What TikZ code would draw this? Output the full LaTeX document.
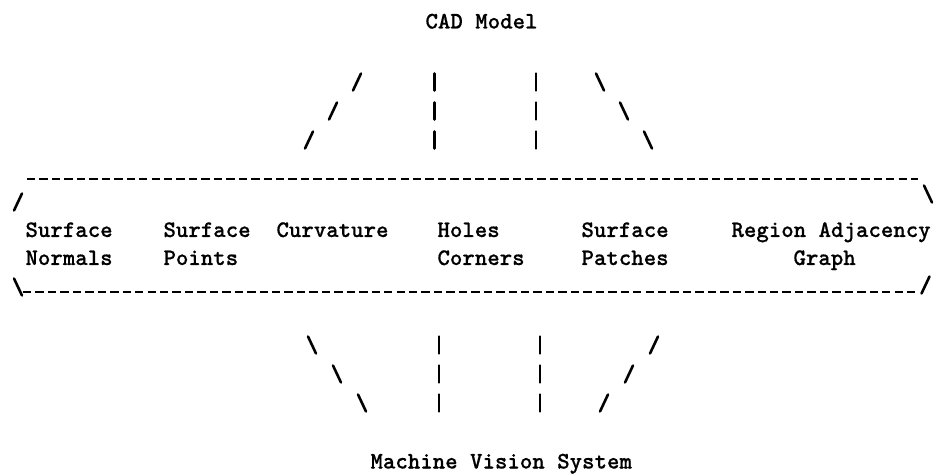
\documentclass[tikz,border=0pt]{standalone}
\usepackage{fontspec}
% heavy typewriter face for all labels
\newfontfamily\typer{lmmonolt10-bold.otf}[FakeBold=0.5]
\begin{document}
\begin{tikzpicture}[x=1bp,y=-1bp,
  lbl/.style={anchor=base west,inner sep=0pt,outer sep=0pt,
    font=\fontsize{23.8}{28}\selectfont\typer},
  tick/.style={line width=2.6bp,line cap=round},
  rule/.style={line width=2.3bp,dash pattern=on 8.4bp off 4.05bp},
  fslash/.pic={\draw[tick] (-4,8.5) -- (4,-8.5);},
  bslash/.pic={\draw[tick] (-4,-8.5) -- (4,8.5);},
  vbar/.pic={\draw[tick] (0,-8.5) -- (0,8.5);}]
\fill[white] (0,0) rectangle (939,474);
\useasboundingbox (0,0) rectangle (939,474);

% source and target
\node[lbl] (cad) at (425.5,28.5) {CAD Model};
\node[lbl] (mvs) at (370.5,468.5) {Machine Vision System};

% feature labels, two lines each
\node[lbl] (sn1) at (25.5,237) {Surface};
\node[lbl] (sn2) at (25.5,265) {Normals};
\node[lbl] (sp1) at (163.5,237) {Surface};
\node[lbl] (sp2) at (163.5,265) {Points};
\node[lbl] (cur) at (276.5,237) {Curvature};
\node[lbl] (hc1) at (437.5,237) {Holes};
\node[lbl] (hc2) at (437.5,265) {Corners};
\node[lbl] (pa1) at (581.5,237) {Surface};
\node[lbl] (pa2) at (581.5,265) {Patches};
\node[lbl] (rag1) at (731.5,237) {Region Adjacency};
\node[lbl] (rag2) at (793.5,265) {Graph};

% frame round the features
\coordinate (tl) at (27,179);
\coordinate (tr) at (917.5,179);
\coordinate (bl) at (23,292);
\coordinate (br) at (917.5,292);
\draw[rule] (tl) -- (tr);
\draw[rule] (bl) -- (br);
\pic at (18,202) {fslash};
\pic at (928,194) {bslash};
\pic at (18,287) {bslash};
\pic at (925.5,285) {fslash};

% links from the CAD model down to the frame
\foreach \y/\dx in {82/0,111/24,140/48}{
  \pic at (357-\dx,\y) {fslash};
  \pic at (434.5,\y) {vbar};
  \pic at (536,\y) {vbar};
  \pic at (600+\dx,\y) {bslash};
}

% links from the frame down to the vision system
\foreach \y/\dx in {345/0,374/25,403/50}{
  \pic at (312+\dx,\y) {bslash};
  \pic at (439,\y) {vbar};
  \pic at (540,\y) {vbar};
  \pic at (654-\dx,\y) {fslash};
}
\end{tikzpicture}
\end{document}
